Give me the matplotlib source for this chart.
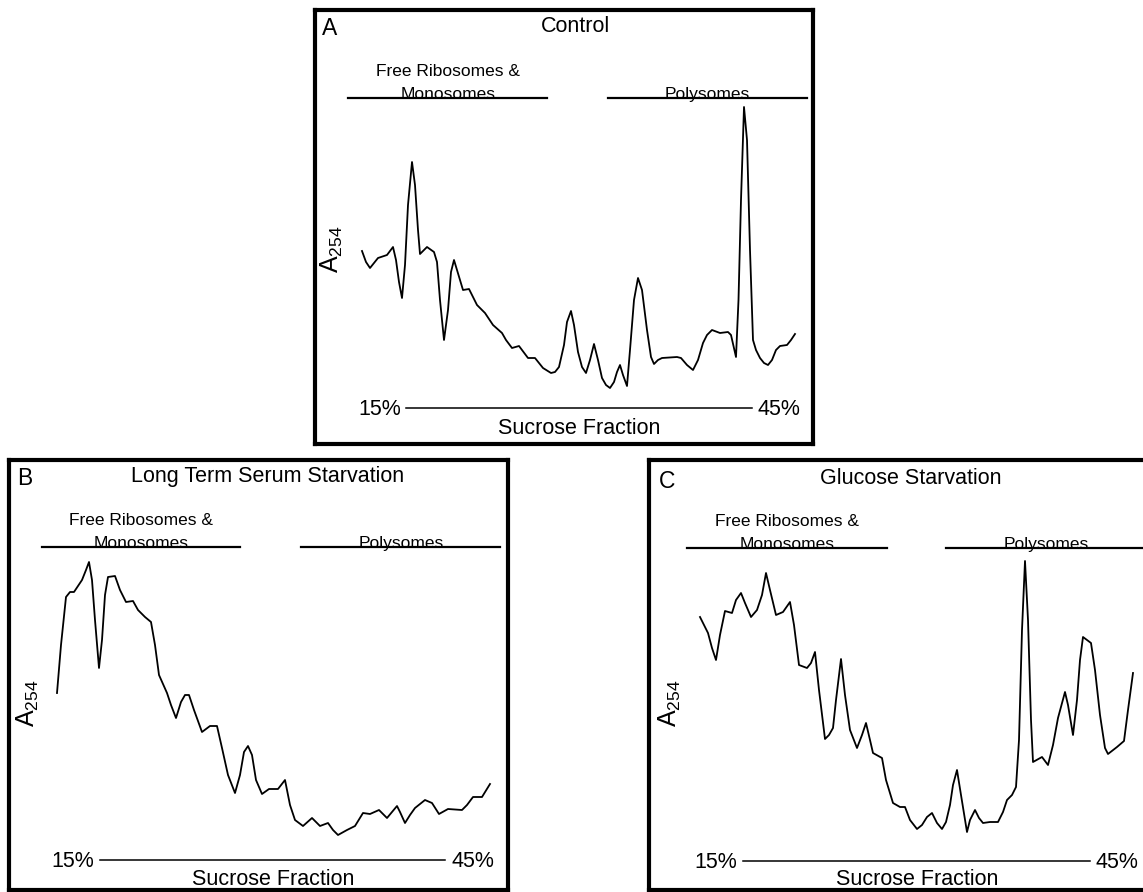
import matplotlib
matplotlib.use('Agg')
import matplotlib.pyplot as plt
from matplotlib.lines import Line2D

plt.rcParams['font.family'] = ['Liberation Sans', 'DejaVu Sans']
plt.rcParams['mathtext.fontset'] = 'custom'
plt.rcParams['mathtext.rm'] = 'Liberation Sans'

# A254 traces (position along gradient, absorbance in arbitrary units)
control_x = [2, 6, 10, 14, 18, 27, 33, 36, 39, 42, 45, 48, 52, 55, 58, 60, 67, 74, 77, 80,
             84, 88, 91, 94, 97, 103, 109, 117, 125, 133, 142, 146, 152, 159, 168, 175, 183,
             191, 195, 199, 204, 207, 211, 214, 218, 222, 226, 230, 234, 238, 242, 246, 250,
             254, 257, 260, 263, 267, 270, 274, 278, 282, 287, 291, 294, 298, 302, 317, 321,
             327, 333, 338, 343, 347, 352, 360, 368, 371, 376, 378.5, 381, 384, 387, 390, 393,
             396, 400, 404, 408, 412, 416, 420, 427, 431, 435]
control_y = [149, 138, 132, 137, 142, 145, 153, 140, 118, 102, 135, 195, 238, 215, 170, 146,
             153, 148, 138, 100, 60, 90, 128, 140, 130, 110, 111, 95, 87, 75, 67, 60, 52, 54,
             42, 42, 32, 27, 28, 33, 55, 78, 89, 75, 48, 33, 27, 40, 56, 40, 22, 15, 12, 18,
             28, 35, 25, 14, 50, 100, 122, 110, 70, 43, 36, 40, 42, 43, 42, 35, 30, 40, 57,
             65, 70, 67, 68, 65, 43, 100, 200, 293, 260, 150, 60, 50, 42, 37, 35, 40, 50, 54,
             55, 60, 66]

serum_x = [2, 6, 11, 15, 19, 27, 31, 34, 37, 40, 44, 47, 50, 53, 60, 65, 71, 78, 83, 90, 96,
           100, 104, 112, 116, 121, 126, 130, 134, 139, 147, 155, 162, 167, 173, 180, 185,
           189, 193, 197, 201, 207, 214, 223, 230, 235, 240, 248, 257, 265, 273, 278, 283,
           292, 300, 308, 315, 324, 332, 342, 345, 350, 355, 360, 370, 377, 384, 393, 407,
           412, 418, 427, 435]
serum_y = [157, 205, 253, 258, 258, 270, 280, 288, 270, 230, 182, 210, 255, 273, 274, 260,
           248, 249, 240, 233, 228, 205, 175, 157, 145, 132, 148, 155, 155, 140, 118, 124,
           124, 102, 75, 57, 75, 98, 104, 95, 70, 56, 61, 61, 70, 45, 30, 24, 32, 24, 27,
           20, 15, 20, 24, 37, 36, 40, 32, 44, 38, 27, 35, 42, 50, 47, 36, 41, 40, 45, 53,
           53, 66]

glucose_x = [2, 6, 10, 14, 18, 22, 27, 34, 38, 43, 47, 53, 59, 64, 68, 72, 78, 85, 92, 96,
             101, 109, 113, 117, 121, 127, 131, 135, 138, 143, 147, 152, 159, 164, 168, 172,
             175, 184, 188, 195, 202, 207, 212, 219, 224, 229, 234, 239, 244, 248, 252, 255,
             259, 263, 269, 272, 277, 281, 285, 292, 300, 305, 309, 314, 318, 321, 324, 327,
             330, 333, 335, 344, 350, 355, 360, 367, 370, 375, 379, 382, 385, 393, 397, 402,
             407, 410, 419, 426, 430, 435]
glucose_y = [233, 225, 217, 202, 190, 215, 239, 237, 250, 257, 247, 233, 240, 255, 277, 260,
             235, 238, 248, 225, 185, 182, 187, 198, 160, 111, 115, 122, 150, 191, 155, 120,
             102, 115, 127, 110, 97, 92, 70, 47, 43, 43, 30, 21, 25, 33, 37, 27, 21, 28, 45,
             65, 80, 55, 18, 30, 40, 32, 27, 28, 28, 38, 50, 55, 63, 110, 220, 289, 230, 130,
             88, 93, 85, 105, 132, 158, 145, 115, 150, 190, 213, 207, 180, 135, 102, 96, 103,
             109, 140, 177]

letters = ['A', 'B', 'C']
titles = ['Control', 'Long Term Serum Starvation', 'Glucose Starvation']

W, H = 1143, 892
fig = plt.figure(figsize=(W / 100, H / 100), dpi=100)


def fx(x):
    return x / W


def fy(y):
    return 1 - y / H


def panel(box, origin, xs, ys):
    x0, y0, x1, y1 = box
    ax = fig.add_axes([fx(x0), fy(y1), (x1 - x0) / W, (y1 - y0) / H])
    ox, oy = origin
    ax.set_xlim(x0 - ox, x1 - ox)
    ax.set_ylim(oy - y1, oy - y0)
    ax.set_xticks([])
    ax.set_yticks([])
    for s in ax.spines.values():
        s.set_linewidth(3)
        s.set_color('black')
    ax.plot(xs, ys, color='black', lw=1.3, solid_joinstyle='round')
    return ax


def hline(xa, xb, y, lw):
    fig.add_artist(Line2D([fx(xa), fx(xb)], [fy(y), fy(y)], color='black', lw=lw,
                          transform=fig.transFigure))


def txt(x, y, s, size, ha='center', va='baseline', rot=0):
    fig.text(fx(x), fy(y), s, fontsize=size, ha=ha, va=va, rotation=rot)


def labels(letter, lpos, title, tpos, free_x, free_y, line_y, lines, ylab, suc):
    txt(lpos[0], lpos[1], letter, 16.5, ha='left')
    txt(tpos[0], tpos[1], title, 15.5)
    txt(free_x, free_y, 'Free Ribosomes &', 12.5)
    txt(free_x, line_y + 1, 'Monosomes', 12.5)
    txt(lines[3], line_y + 1, 'Polysomes', 12.5)
    hline(lines[0], lines[1], line_y, 1.6)
    hline(lines[2], lines[4], line_y, 1.6)
    txt(ylab[0], ylab[1], r'A$_{\mathrm{254}}$', 18, va='center', rot=90)
    p15, la, lb, p45, sy, sx, sb = suc
    txt(p15, sy + 7, '15%', 15.5)
    txt(p45, sy + 7, '45%', 15.5)
    hline(la, lb, sy, 1.1)
    txt(sx, sb, 'Sucrose Fraction', 15.5)


panel((315, 10, 813, 444), (360, 400), control_x, control_y)
panel((9, 460, 508, 890), (55, 850), serum_x, serum_y)
panel((649, 460, 1150, 890), (698, 850), glucose_x, glucose_y)

labels(letters[0], (322, 35), titles[0], (575, 32), 448, 76, 97.7,
       (348, 547, 608, 707.7, 807), (332, 249.5), (380, 406, 752, 779, 408.3, 579, 433.5))
labels(letters[1], (17, 485), titles[1], (268, 482), 141, 525, 546.7,
       (42, 240, 301, 401, 500), (28, 703), (72.5, 100, 445, 473, 860, 272.7, 885))
labels(letters[2], (659, 488), titles[2], (910.7, 483.5), 787, 526, 548.3,
       (687, 887, 946, 1046.7, 1150), (670, 703), (716, 743, 1090, 1117, 861, 917.3, 885))

fig.savefig('out.png', dpi=100, facecolor='white')
